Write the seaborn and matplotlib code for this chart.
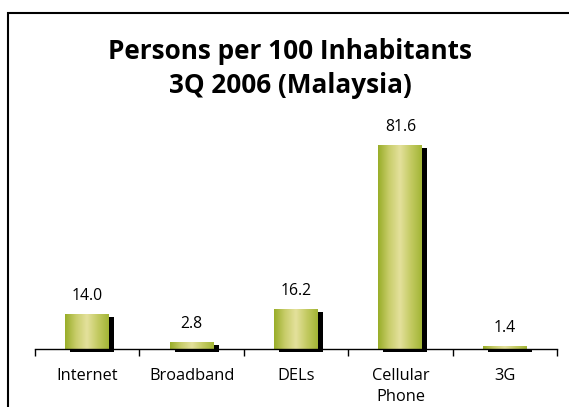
import numpy as np
import pandas as pd
import matplotlib
matplotlib.use("Agg")
import matplotlib.pyplot as plt
import matplotlib.transforms as mtransforms
from matplotlib.colors import LinearSegmentedColormap
from matplotlib.patches import Rectangle
import seaborn as sns

# data
categories = ["Internet", "Broadband", "DELs", "Cellular\nPhone", "3G"]
values = [14.0, 2.8, 16.2, 81.6, 1.4]
value_labels = ["14.0", "2.8", "16.2", "81.6", "1.4"]

df = pd.DataFrame({"category": categories, "value": values})

sns.set_style("white")
plt.rcParams["font.family"] = ["Open Sans", "DejaVu Sans"]
plt.rcParams["text.color"] = "black"
plt.rcParams["xtick.color"] = "black"
plt.rcParams["xtick.labelcolor"] = "black"

fig = plt.figure(figsize=(5.69, 4.07), dpi=100)
ax = fig.add_axes([35 / 569, 58 / 407, 522 / 569, 228 / 407])

sns.barplot(data=df, x="category", y="value", width=0.42, color="#b5c24a",
            ax=ax, zorder=2)

# gradient green bars + black drop shadow
cmap = LinearSegmentedColormap.from_list(
    "bar", ["#98ad28", "#c8cd6a", "#e4e19c", "#c3ca62", "#a2b535"])
grad = np.linspace(0, 1, 256).reshape(1, -1)
shadow_tr = mtransforms.offset_copy(ax.transData, fig=fig, x=5, y=-3, units="dots")
for p in list(ax.patches):
    x0, w, h = p.get_x(), p.get_width(), p.get_height()
    sh = Rectangle((x0, 0), w, h, facecolor="black", edgecolor="none",
                   transform=shadow_tr, zorder=1, clip_on=False)
    ax.add_patch(sh)
    p.set_facecolor("none")
    p.set_edgecolor("none")
    im = ax.imshow(grad, cmap=cmap, aspect="auto", extent=(x0, x0 + w, 0, h),
                   zorder=2, interpolation="bicubic")
    im.set_clip_path(p)

# value labels above bars
for i, (v, lab) in enumerate(zip(values, value_labels)):
    ax.annotate(lab, (i, v), xytext=(0, 14), textcoords="offset pixels",
                ha="center", va="baseline", fontsize=11.3, color="black")

ax.set_xlim(-0.5, 4.5)
ax.set_ylim(0, 91.3)
ax.set_xlabel("")
ax.set_ylabel("")
ax.set_yticks([])
ax.set_xticks(range(5))
ax.set_xticklabels(categories, fontsize=11.8, linespacing=1.4)
ax.set_xticks(np.arange(-0.5, 5, 1), minor=True)
ax.tick_params(axis="x", which="major", length=0, pad=14)
ax.tick_params(axis="x", which="minor", length=5, width=1, color="black",
               direction="out", bottom=True)
for s in ["top", "right", "left"]:
    ax.spines[s].set_visible(False)
ax.spines["bottom"].set_color("black")
ax.spines["bottom"].set_linewidth(1.0)
ax.spines["bottom"].set_zorder(3)

fig.text(290 / 569, 1 - 59 / 407, "Persons per 100 Inhabitants",
         ha="center", va="baseline", fontsize=18.8, fontweight="bold")
fig.text(290 / 569, 1 - 93 / 407, "3Q 2006 (Malaysia)",
         ha="center", va="baseline", fontsize=18.8, fontweight="bold")

# outer frame
fig.patches.append(Rectangle((8 / 569, -0.05), 1.0, 1 - 13 / 407 + 0.05,
                             transform=fig.transFigure, fill=False,
                             edgecolor="black", linewidth=1.5))

fig.savefig("out.png", dpi=100)
